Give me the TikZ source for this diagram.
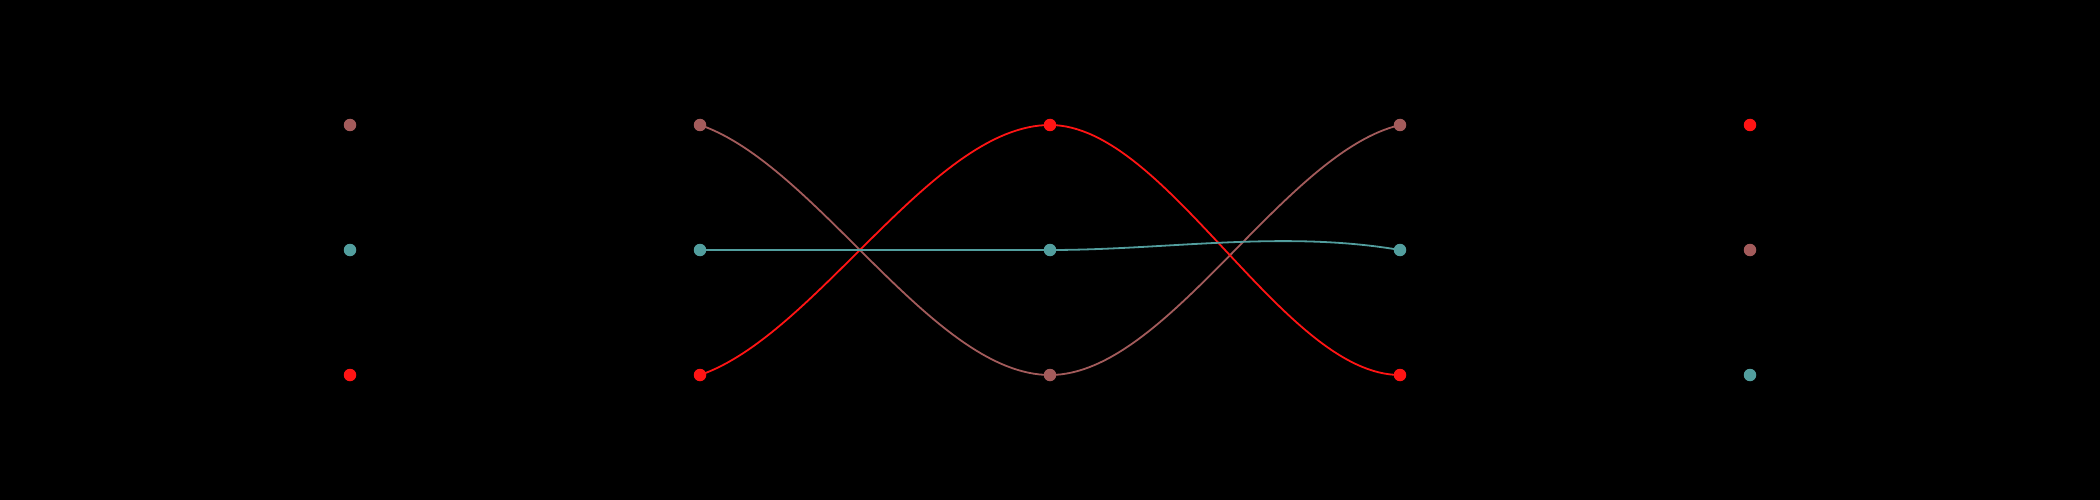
\documentclass[tikz,border=0pt]{standalone}
\definecolor{cbrown}{HTML}{A35B5B}
\definecolor{cteal}{HTML}{529E9E}
\definecolor{cred}{HTML}{FF1414}
\pgfdeclarelayer{bg}
\pgfdeclarelayer{edges}
\pgfsetlayers{bg,edges,main}
\tikzset{
  dot/.style={circle, fill=#1, draw=none, minimum size=12.5pt, inner sep=0pt},
  wire/.style={draw=#1, line width=1.8pt}
}
\begin{document}
\begin{tikzpicture}[x=1pt,y=-1pt]
\useasboundingbox (0,0) rectangle (2100,500);
\begin{pgfonlayer}{bg}
\fill[black] (0,0) rectangle (2100,500);
\end{pgfonlayer}
% column 1
\node[dot=cbrown] (a1) at (350,125) {};
\node[dot=cteal]  (a2) at (350,250) {};
\node[dot=cred]   (a3) at (350,375) {};
% column 2
\node[dot=cbrown] (b1) at (700,125) {};
\node[dot=cteal]  (b2) at (700,250) {};
\node[dot=cred]   (b3) at (700,375) {};
% column 3
\node[dot=cred]   (c1) at (1050,125) {};
\node[dot=cteal]  (c2) at (1050,250) {};
\node[dot=cbrown] (c3) at (1050,375) {};
% column 4
\node[dot=cbrown] (d1) at (1400,125) {};
\node[dot=cteal]  (d2) at (1400,250) {};
\node[dot=cred]   (d3) at (1400,375) {};
% column 5
\node[dot=cred]   (e1) at (1750,125) {};
\node[dot=cbrown] (e2) at (1750,250) {};
\node[dot=cteal]  (e3) at (1750,375) {};
\begin{pgfonlayer}{edges}
\draw[wire=cbrown] (b1.center) .. controls +(116.7,40) and +(-116.7,0) .. (c3.center)
                               .. controls +(116.7,0) and +(-116.7,27.5) .. (d1.center);
\draw[wire=cred] (b3.center) .. controls +(116.7,-40) and +(-116.7,0) .. (c1.center)
                             .. controls +(116.7,0) and +(-116.7,0) .. (d3.center);
\draw[wire=cteal] (b2.center) -- (c2.center)
                  .. controls +(116.7,0) and +(-116.7,-20) .. (d2.center);
\end{pgfonlayer}
\end{tikzpicture}
\end{document}
